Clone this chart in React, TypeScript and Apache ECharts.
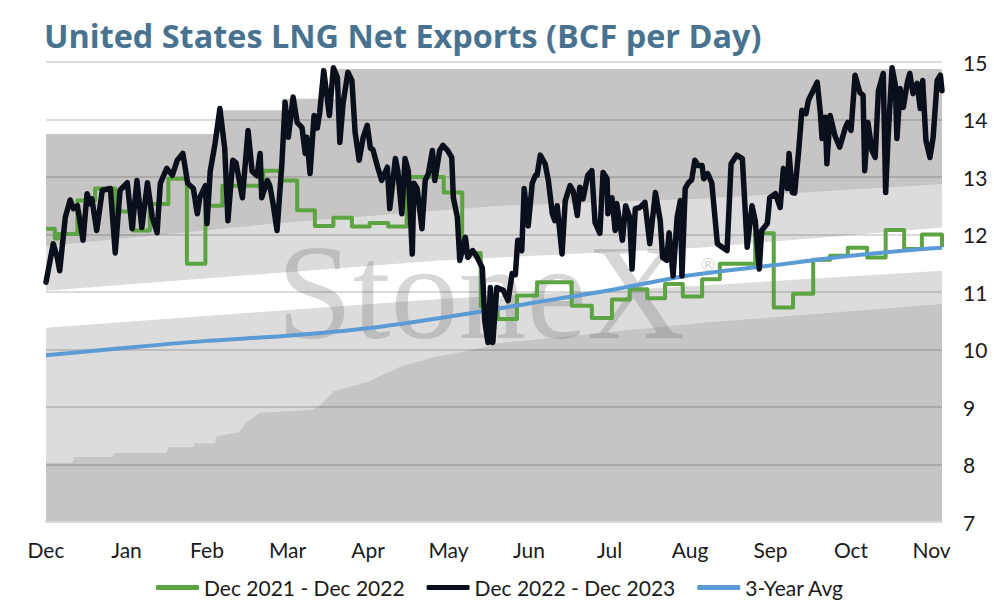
import React, { useEffect, useRef } from 'react';
import * as echarts from 'echarts';

// Month labels of the x axis (position 0 = Dec, 11 = Nov; fractional = within month)
const MONTHS = ['Dec', 'Jan', 'Feb', 'Mar', 'Apr', 'May', 'Jun', 'Jul', 'Aug', 'Sep', 'Oct', 'Nov'];
const X_MAX = 11.13;

// Dec 2022 - Dec 2023 (black)
const blackT = [
  0.0, 0.09, 0.14, 0.17, 0.24, 0.3, 0.34, 0.39, 0.46, 0.51, 0.55, 0.57, 0.63, 0.7, 0.8, 0.86, 0.92,
  1.01, 1.07, 1.13, 1.19, 1.26, 1.32, 1.38, 1.42, 1.5, 1.57, 1.63, 1.7, 1.76, 1.83, 1.88, 1.91, 1.98,
  2.0, 2.04, 2.1, 2.16, 2.22, 2.26, 2.32, 2.36, 2.44, 2.51, 2.56, 2.62, 2.66, 2.68, 2.75, 2.78, 2.82, 2.87,
  2.93, 2.97, 3.01, 3.07, 3.12, 3.18, 3.22, 3.24, 3.28, 3.33, 3.37, 3.4, 3.45, 3.52, 3.57, 3.62, 3.65,
  3.69, 3.75, 3.8, 3.84, 3.89, 3.94, 3.99, 4.03, 4.06, 4.12, 4.17, 4.24, 4.27, 4.34, 4.37, 4.42, 4.46,
  4.5, 4.55, 4.57, 4.61, 4.67, 4.71, 4.75, 4.8, 4.83, 4.89, 4.93, 4.99, 5.04, 5.06, 5.11, 5.14, 5.21,
  5.24, 5.3, 5.35, 5.42, 5.45, 5.49, 5.52, 5.55, 5.6, 5.68, 5.74, 5.79, 5.83, 5.86, 5.91, 5.94, 5.99,
  6.04, 6.08, 6.1, 6.14, 6.2, 6.24, 6.29, 6.32, 6.35, 6.41, 6.45, 6.51, 6.55, 6.6, 6.63, 6.67, 6.73,
  6.78, 6.82, 6.88, 6.92, 6.97, 6.98, 7.03, 7.07, 7.09, 7.16, 7.2, 7.25, 7.28, 7.32, 7.38, 7.44, 7.5,
  7.57, 7.63, 7.66, 7.71, 7.74, 7.79, 7.84, 7.88, 7.9, 7.94, 7.98, 8.02, 8.06, 8.1, 8.15, 8.17, 8.22,
  8.27, 8.34, 8.4, 8.46, 8.51, 8.58, 8.65, 8.71, 8.77, 8.81, 8.86, 8.89, 8.96, 8.99, 9.06, 9.12, 9.16,
  9.21, 9.23, 9.27, 9.3, 9.35, 9.39, 9.44, 9.47, 9.58, 9.62, 9.64, 9.68, 9.7, 9.74, 9.8, 9.86, 9.93,
  9.96, 10.0, 10.05, 10.11, 10.15, 10.17, 10.21, 10.26, 10.3, 10.34, 10.4, 10.43, 10.46, 10.51, 10.55,
  10.57, 10.61, 10.65, 10.7, 10.73, 10.77, 10.82, 10.86, 10.89, 10.93, 10.98, 11.02, 11.07, 11.11, 11.13,
];
const blackV = [
  11.17, 11.84, 11.6, 11.37, 12.3, 12.6, 12.45, 12.5, 11.9, 12.71, 12.53, 12.62, 12.07, 12.77, 12.8, 11.68, 12.77,
  12.9, 12.1, 12.94, 12.12, 12.9, 12.3, 12.03, 12.89, 13.15, 13.03, 13.29, 13.41, 12.89, 12.8, 12.36, 12.64, 12.85,
  12.19, 13.1, 13.58, 14.19, 13.5, 12.24, 13.29, 13.25, 12.64, 13.81, 13.1, 13.02, 13.41, 12.64, 12.94, 12.85, 12.54, 12.07,
  13.23, 14.3, 13.69, 14.39, 13.95, 13.86, 13.41, 13.69, 13.06, 14.07, 13.85, 14.12, 14.85, 14.07, 14.9, 14.73, 13.6,
  14.28, 14.82, 14.68, 13.77, 13.29, 13.69, 13.9, 13.5, 13.48, 13.17, 12.94, 13.17, 12.45, 13.32, 13.11, 12.36, 13.32,
  13.11, 11.66, 12.89, 12.8, 12.1, 12.94, 13.06, 13.46, 12.94, 13.46, 13.55, 13.46, 13.34, 12.64, 12.3, 11.55, 11.95,
  11.6, 11.72, 11.62, 11.42, 10.5, 10.12, 11.08, 10.12, 11.08, 11.03, 10.85, 11.32, 11.3, 11.9, 11.72, 12.8, 12.15,
  12.89, 13.03, 13.03, 13.38, 13.23, 12.94, 12.36, 12.24, 12.5, 11.66, 12.59, 12.85, 12.75, 12.33, 12.82, 12.62, 13.03,
  13.11, 12.21, 12.02, 13.08, 12.97, 12.36, 12.64, 12.07, 12.54, 11.9, 12.5, 12.3, 11.4, 12.45, 12.47, 12.56, 11.84,
  12.73, 12.24, 11.6, 11.55, 12.03, 11.28, 12.3, 12.59, 11.28, 12.8, 12.9, 12.95, 13.29, 13.2, 13.2, 12.97, 13.06,
  12.9, 11.84, 11.78, 11.72, 13.23, 13.38, 13.32, 11.78, 12.5, 12.24, 11.4, 12.07, 12.19, 12.64, 12.71, 12.47, 13.15,
  12.8, 13.41, 12.73, 12.72, 13.46, 14.16, 14.1, 14.33, 14.65, 14.1, 13.67, 14.04, 13.23, 14.07, 13.72, 13.52, 13.86,
  13.95, 13.81, 14.77, 14.47, 14.42, 13.11, 13.95, 13.46, 13.34, 14.5, 14.8, 12.73, 13.69, 14.9, 14.6,
  13.67, 14.54, 14.21, 14.65, 14.8, 14.45, 14.63, 14.19, 14.68, 13.64, 13.34, 13.69, 14.68, 14.77, 14.5,
];

// Dec 2021 - Dec 2022 (green, weekly levels: start position + value)
const greenT = [
  0, 0.11, 0.15, 0.39, 0.61, 0.86, 1.09, 1.29, 1.52, 1.75, 1.98, 2.19, 2.7, 2.91, 3.12, 3.34, 3.57, 3.8,
  4.02, 4.25, 4.48, 4.94, 5.17, 5.4, 5.61, 5.85, 6.1, 6.53, 6.78, 7.03, 7.25, 7.47, 7.69, 7.91, 8.15, 8.37,
  8.81, 9.04, 9.28, 9.53, 9.74, 9.96, 10.2, 10.43, 10.66, 10.88, 11.13,
];
const greenV = [
  12.1, 11.93, 12.01, 12.59, 12.8, 12.4, 12.07, 12.53, 12.97, 11.49, 12.5, 12.85, 13.11, 12.94, 12.42, 12.15, 12.29, 12.14,
  12.2, 12.14, 13.0, 12.73, 11.68, 10.75, 10.53, 10.94, 11.17, 10.76, 10.55, 10.87, 11.05, 10.89, 11.14, 10.92, 11.22, 11.49,
  12.02, 10.73, 10.97, 11.56, 11.63, 11.77, 11.6, 12.08, 11.75, 12.0, 11.78,
];

// 3-Year Avg (blue)
const avgT = [0, 1, 2, 3, 4, 5, 6, 7, 8, 9, 10, 11, 11.13];
const avgV = [9.9, 10.03, 10.15, 10.24, 10.37, 10.57, 10.8, 11.03, 11.29, 11.46, 11.63, 11.76, 11.77];

// Background range bands, from top to bottom
const maxT = [0, 2.15, 2.93, 3.6, 11.13];
const maxV = [13.75, 14.16, 14.36, 14.88, 14.88];
const upperT = [0, 2.91, 5.64, 8.12, 11.13];
const upperV = [11.8, 12.2, 12.5, 12.62, 12.88];
const midHighT = [0, 4.89, 8.12, 11.13];
const midHighV = [11.02, 11.55, 11.77, 12.12];
const midLowT = [0, 2.53, 4.89, 8.12, 11.13];
const midLowV = [10.38, 10.64, 10.88, 11.11, 11.37];
const minT = [
  0, 0.33, 0.35, 0.83, 0.85, 1.5, 1.52, 1.83, 1.85, 2.1, 2.12, 2.4, 2.48, 2.65, 3.3, 3.4, 3.57, 3.7, 4.0,
  4.4, 4.8, 5.43, 5.56, 8.12, 11.13,
];
const minV = [
  8.03, 8.03, 8.13, 8.13, 8.2, 8.2, 8.3, 8.3, 8.37, 8.37, 8.49, 8.56, 8.72, 8.9, 8.95, 9.02, 9.27, 9.32, 9.44,
  9.7, 9.86, 10.03, 10.1, 10.46, 10.79,
];

const Y_TICKS = { min: 7, max: 15, interval: 1 };

const pairs = (t: number[], v: number[]) => t.map((x, i) => [x, v[i]]);

const DARK = '#c6c5c3';
const LIGHT = '#dcdcdc';

function band(name: string, t: number[], v: number[], color: string, step?: string) {
  return {
    name,
    type: 'line',
    data: pairs(t, v),
    step: step || false,
    symbol: 'none',
    silent: true,
    z: 1,
    lineStyle: { width: 0, opacity: 0 },
    areaStyle: { color, opacity: 1, origin: 'start' },
    emphasis: { disabled: true },
  };
}

export default function App() {
  const ref = useRef<HTMLDivElement>(null);
  useEffect(() => {
    const chart = echarts.init(ref.current as HTMLDivElement, null, { renderer: 'svg' });
    const font = 'Lato, "Noto Sans", sans-serif';
    chart.setOption({
      animation: false,
      backgroundColor: '#ffffff',
      title: {
        text: 'United States LNG Net Exports (BCF per Day)',
        left: 44,
        top: 19,
        padding: 0,
        textStyle: { fontFamily: '"Open Sans", Lato, sans-serif', fontWeight: 'bold', fontSize: 32.4, color: '#48728f' },
      },
      grid: { left: 46, right: 52, top: 62, bottom: 84 },
      legend: {
        data: ['Dec 2021 - Dec 2022', 'Dec 2022 - Dec 2023', '3-Year Avg'],
        left: 151,
        top: 572,
        icon: 'roundRect',
        itemWidth: 43,
        itemHeight: 5,
        itemGap: 22,
        textStyle: { fontFamily: font, fontSize: 21, color: '#1a1a1a' },
      },
      xAxis: {
        type: 'value',
        min: 0,
        max: X_MAX,
        interval: 1,
        z: 2,
        axisLine: { show: true, lineStyle: { color: '#d9d9d9', width: 2 } },
        axisTick: { show: false },
        splitLine: { show: false },
        axisLabel: {
          margin: 17,
          fontFamily: font,
          fontSize: 21,
          color: '#1a1a1a',
          formatter: (val: number) => (Math.abs(val - Math.round(val)) < 1e-6 ? MONTHS[Math.round(val)] || '' : ''),
        },
      },
      yAxis: {
        type: 'value',
        position: 'right',
        min: Y_TICKS.min,
        max: Y_TICKS.max,
        interval: Y_TICKS.interval,
        z: 2,
        axisLine: { show: false },
        axisTick: { show: false },
        splitLine: { show: true, lineStyle: { color: 'rgba(0,0,0,0.14)', width: 2 } },
        axisLabel: { margin: 21, fontFamily: font, fontSize: 21, color: '#1a1a1a' },
      },
      graphic: [
        {
          type: 'text',
          left: 277,
          top: 224,
          z: 2,
          silent: true,
          style: {
            text: 'StoneX',
            font: '136px "Liberation Serif", "DejaVu Serif", serif',
            fill: 'rgba(110,110,122,0.28)',
          },
        },
        {
          type: 'text',
          left: 699,
          top: 255,
          z: 2,
          silent: true,
          style: {
            text: '®',
            font: '18px "DejaVu Sans", sans-serif',
            fill: 'rgba(110,110,122,0.3)',
          },
        },
      ],
      series: [
        band('max', maxT, maxV, DARK, 'end'),
        band('upper', upperT, upperV, LIGHT),
        band('midHigh', midHighT, midHighV, '#ffffff'),
        band('midLow', midLowT, midLowV, LIGHT),
        band('min', minT, minV, DARK),
        {
          name: 'Dec 2021 - Dec 2022',
          type: 'line',
          data: pairs(greenT, greenV),
          step: 'end',
          symbol: 'none',
          z: 3,
          color: '#5ca341',
          lineStyle: { color: '#5ca341', width: 4, join: 'round' },
        },
        {
          name: '3-Year Avg',
          type: 'line',
          data: pairs(avgT, avgV),
          smooth: 0.3,
          symbol: 'none',
          z: 3,
          color: '#5b9bd5',
          lineStyle: { color: '#5b9bd5', width: 4 },
        },
        {
          name: 'Dec 2022 - Dec 2023',
          type: 'line',
          data: pairs(blackT, blackV),
          symbol: 'none',
          z: 3,
          color: '#0a0f1c',
          lineStyle: { color: '#0a0f1c', width: 5.5, join: 'round', cap: 'round' },
        },
      ],
    });
    return () => chart.dispose();
  }, []);
  return <div ref={ref} style={{ position: 'fixed', left: 0, top: 0, width: 994, height: 606 }} />;
}
